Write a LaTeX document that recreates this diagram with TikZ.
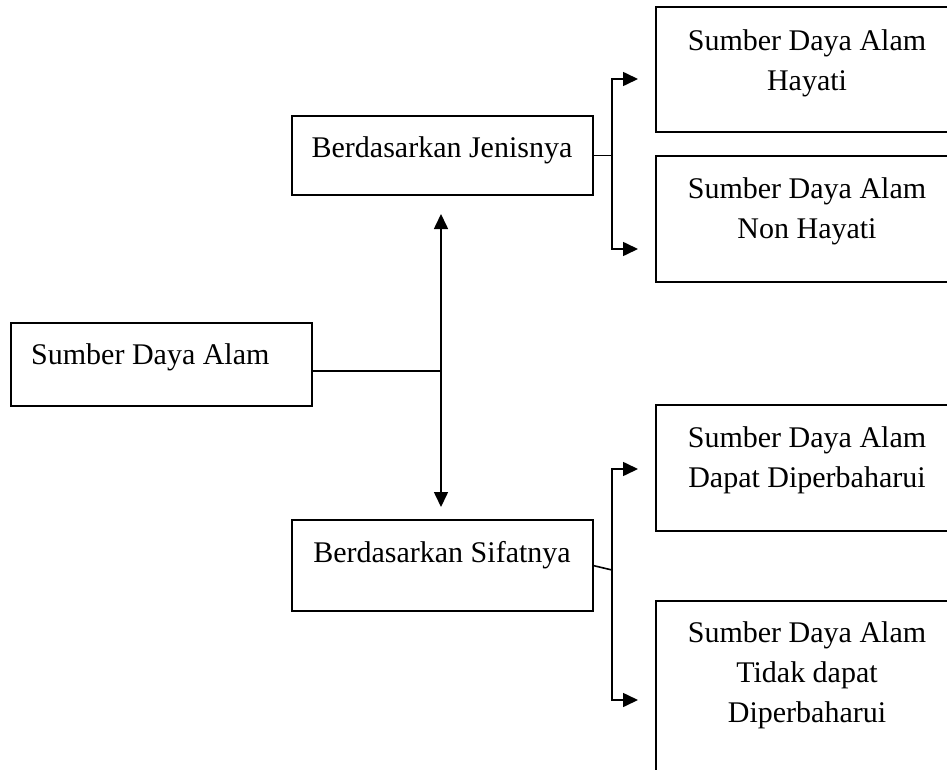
\documentclass[tikz,border=0pt]{standalone}
\usepackage{fontspec}
\setmainfont{Liberation Serif}
\usetikzlibrary{arrows.meta}
\begin{document}
\begin{tikzpicture}[x=1pt,y=-1pt,
  box/.style={draw,line width=1.6pt,inner sep=0pt,outer sep=0pt,anchor=north west},
  txt/.style={inner sep=0pt,align=center,font=\fontsize{30}{40}\selectfont},
  conn/.style={line width=1.6pt},
  arr/.style={line width=1.6pt,-{Triangle[length=15pt,width=14pt]}},
  darr/.style={line width=1.6pt,{Triangle[length=15pt,width=14pt]}-{Triangle[length=15pt,width=14pt]}}]
\clip (0,0) rectangle (947,770);
\fill[white] (0,0) rectangle (947,770);
% boxes
\node[box,minimum width=301pt,minimum height=83pt] (sda) at (11,323) {};
\node[box,minimum width=301pt,minimum height=79pt] (jen) at (292,116) {};
\node[box,minimum width=301pt,minimum height=91pt] (sif) at (292,520) {};
\node[box,minimum width=310pt,minimum height=125pt] (hay) at (656,7) {};
\node[box,minimum width=310pt,minimum height=126pt] (non) at (656,156) {};
\node[box,minimum width=310pt,minimum height=126pt] (dap) at (656,405) {};
\node[box,minimum width=310pt,minimum height=190pt] (tid) at (656,601) {};
% texts
\node[txt,anchor=north west] (tsda) at (31,343) {Sumber Daya Alam};
\node[txt,anchor=north] (tjen) at (442,136) {Berdasarkan Jenisnya};
\node[txt,anchor=north] (tsif) at (442,541) {Berdasarkan Sifatnya};
\node[txt,anchor=north] (thay) at (807,29) {Sumber Daya Alam\\Hayati};
\node[txt,anchor=north] (tnon) at (807,177) {Sumber Daya Alam\\Non Hayati};
\node[txt,anchor=north] (tdap) at (807,426) {Sumber Daya Alam\\Dapat Diperbaharui};
\node[txt,anchor=north] (ttid) at (807,621) {Sumber Daya Alam\\Tidak dapat\\Diperbaharui};
% connector coordinates
\coordinate (sj) at (441,371);
\coordinate (vtop) at (441,214);
\coordinate (vbot) at (441,507);
\coordinate (jb) at (612,155.5);
\coordinate (hayA) at (638,79);
\coordinate (nonA) at (638,249);
\coordinate (sb) at (612,570);
\coordinate (dapA) at (638,469);
\coordinate (tidA) at (638,700);
% connectors
\draw[conn] (sda.east |- sj) -- (sj);
\draw[darr] (vtop) -- (vbot);
\draw[conn] (jen.east) -- (jb);
\draw[arr] (jb) |- (hayA);
\draw[arr] (jb) |- (nonA);
\draw[conn] (sif.east) -- (sb);
\draw[arr] (sb) |- (dapA);
\draw[arr] (sb) |- (tidA);
\end{tikzpicture}
\end{document}
